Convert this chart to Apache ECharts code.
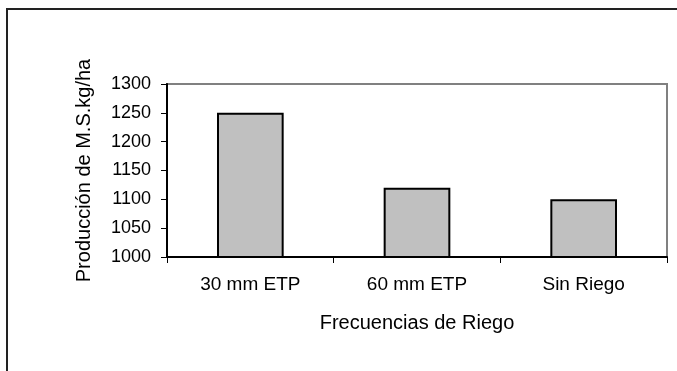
<!DOCTYPE html>
<html>
<head>
<meta charset="utf-8">
<script src="https://cdn.jsdelivr.net/npm/echarts@6/dist/echarts.min.js"></script>
<style>
html,body{margin:0;padding:0;background:#fff;}
#c{width:677px;height:371px;}
</style>
</head>
<body>
<div id="c"></div>
<script>
var categories = ['30 mm ETP', '60 mm ETP', 'Sin Riego'];
var values = [1250, 1120, 1100];
var yTicks = [1000, 1050, 1100, 1150, 1200, 1250, 1300];
var yTitle = 'Producción de M.S.kg/ha';
var xTitle = 'Frecuencias de Riego';

var chart = echarts.init(document.getElementById('c'), null, {renderer: 'canvas'});
var font = '"Liberation Sans", Arial, sans-serif';
chart.setOption({
  animation: false,
  backgroundColor: '#fff',
  graphic: [{
    type: 'rect',
    shape: {x: 7, y: 9, width: 700, height: 400},
    style: {fill: 'none', stroke: '#222', lineWidth: 2},
    silent: true
  }],
  grid: {
    left: 167, right: 10, top: 84, bottom: 114,
    show: true, borderColor: '#808080', borderWidth: 2, backgroundColor: 'transparent'
  },
  xAxis: {
    type: 'category',
    data: categories,
    name: xTitle,
    nameLocation: 'middle',
    nameGap: 56,
    nameTextStyle: {fontFamily: font, fontSize: 20, color: '#000'},
    axisLine: {lineStyle: {color: '#000', width: 2}},
    axisTick: {show: true, length: 6, lineStyle: {color: '#000', width: 1}},
    axisLabel: {fontFamily: font, fontSize: 19, color: '#000', margin: 18},
    splitLine: {show: false}
  },
  yAxis: {
    type: 'value',
    min: yTicks[0],
    max: yTicks[yTicks.length - 1],
    interval: yTicks[1] - yTicks[0],
    name: yTitle,
    nameLocation: 'middle',
    nameGap: 73,
    nameRotate: 90,
    nameTextStyle: {fontFamily: font, fontSize: 20, color: '#000'},
    axisLine: {show: true, lineStyle: {color: '#000', width: 2}},
    axisTick: {show: true, length: 6, lineStyle: {color: '#000', width: 1}},
    axisLabel: {fontFamily: font, fontSize: 18, color: '#000', margin: 16,
      formatter: function (v) { return String(v); }},
    splitLine: {show: false}
  },
  series: [{
    type: 'bar',
    data: values,
    barWidth: '40%',
    itemStyle: {color: '#c0c0c0', borderColor: '#000', borderWidth: 2}
  }]
});
</script>
</body>
</html>
